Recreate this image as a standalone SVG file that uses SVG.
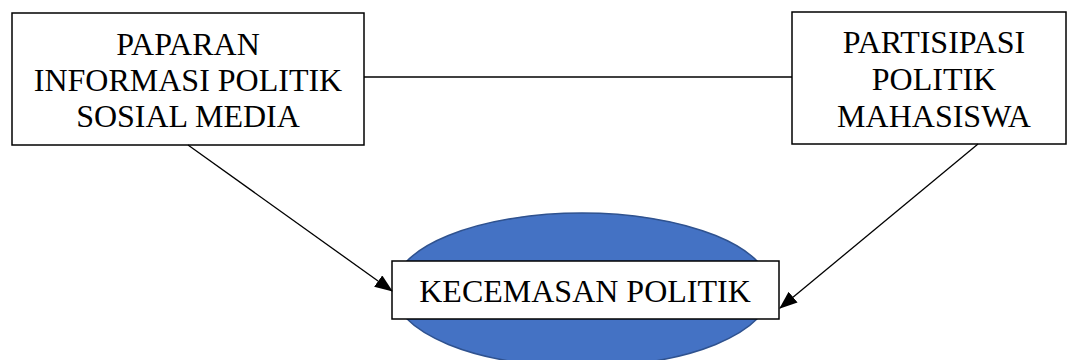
<svg xmlns="http://www.w3.org/2000/svg" width="1068" height="360" viewBox="0 0 1068 360">
<style>
.box{fill:#fff;stroke:#000;stroke-width:1.5}
.t{font-family:"Liberation Serif","Times New Roman",serif;font-size:32px;fill:#000;text-anchor:middle}
.c{stroke:#000;stroke-width:1.3;fill:none}
</style>
<defs>
<marker id="ah" markerWidth="18" markerHeight="14" refX="17" refY="7" orient="auto" markerUnits="userSpaceOnUse">
<path d="M0,0 L18,7 L0,14 Z" fill="#000"/>
</marker>
</defs>
<rect width="1068" height="360" fill="#fff"/>
<g id="kecemasan">
<ellipse cx="582" cy="290" rx="189" ry="77" fill="#4472C4" stroke="#2F528F" stroke-width="1.5"/>
<rect class="box" x="392" y="261" width="387" height="58"/>
<text class="t" x="585" y="302">KECEMASAN POLITIK</text>
</g>
<g id="paparan">
<rect class="box" x="12" y="13" width="352" height="132"/>
<text class="t" x="188" y="55">PAPARAN</text>
<text class="t" x="188" y="91">INFORMASI POLITIK</text>
<text class="t" x="188" y="127">SOSIAL MEDIA</text>
</g>
<g id="partisipasi">
<rect class="box" x="792" y="12" width="274" height="132"/>
<text class="t" x="934" y="53">PARTISIPASI</text>
<text class="t" x="934" y="90">POLITIK</text>
<text class="t" x="934" y="127">MAHASISWA</text>
</g>
<g id="connectors">
<line class="c" x1="364" y1="77" x2="792" y2="77"/>
<line class="c" x1="188" y1="145" x2="392" y2="291" marker-end="url(#ah)"/>
<line class="c" x1="978" y1="144" x2="780" y2="308" marker-end="url(#ah)"/>
</g>
</svg>
